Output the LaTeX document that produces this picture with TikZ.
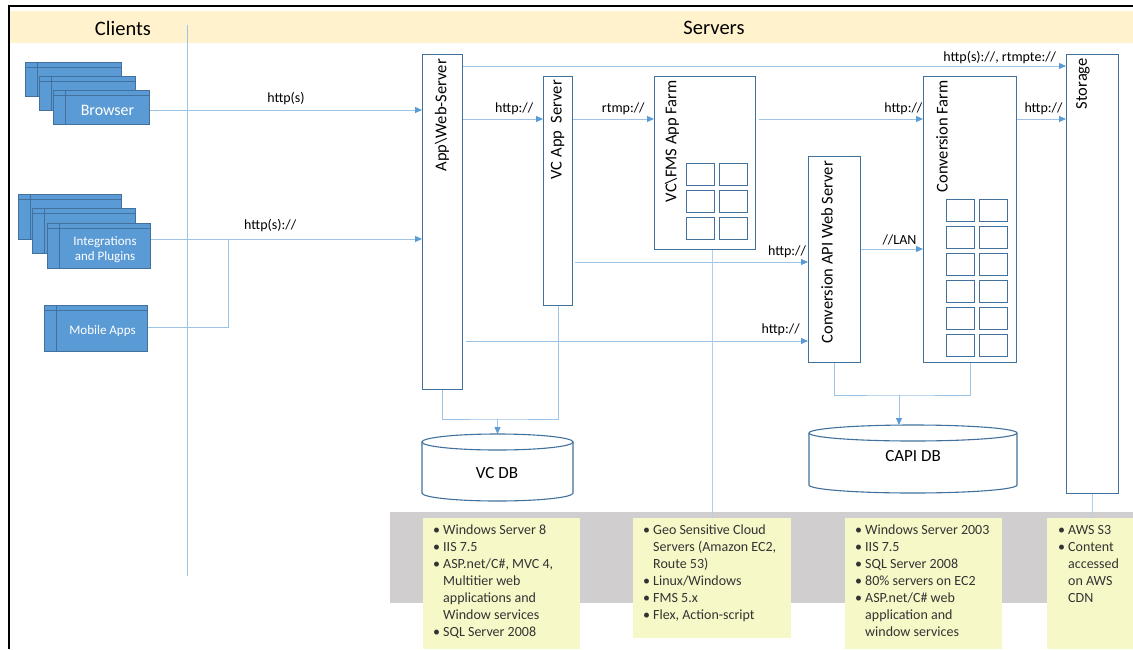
\documentclass[tikz,border=0pt]{standalone}
\usepackage{fontspec}
\setmainfont{Carlito}
\usetikzlibrary{arrows.meta,calc}
\definecolor{clientblue}{HTML}{5B9BD5}
\definecolor{clientedge}{HTML}{41719C}
\definecolor{srvedge}{HTML}{41719C}
\definecolor{linkblue}{HTML}{9DC3E6}
\definecolor{tipblue}{HTML}{5B9BD5}
\definecolor{headyellow}{HTML}{FFF2CC}
\definecolor{bandgray}{HTML}{D0CECE}
\definecolor{noteyellow}{HTML}{F6F8C8}
\newcommand{\nbul}{\makebox[10pt][l]{\textbullet}}
\newcommand{\nind}{\hspace*{10pt}}
\tikzset{
  client/.style={draw=clientedge, fill=clientblue, line width=1pt, anchor=north west, inner sep=0,
    path picture={
      \draw[clientedge, line width=1pt] ([yshift=-5pt]path picture bounding box.north west) -- ([yshift=-5pt]path picture bounding box.north east);
      \draw[clientedge, line width=1pt] ([xshift=12pt]path picture bounding box.north west) -- ([xshift=12pt]path picture bounding box.south west);}},
  ctext/.style={text=white, align=center, inner sep=0},
  srv/.style={draw=srvedge, fill=white, line width=1.1pt, anchor=north west, inner sep=0},
  vlabel/.style={rotate=90, anchor=east, inner sep=0, font=\fontsize{16.5}{19}\selectfont},
  cell/.style={draw=srvedge, fill=white, line width=1.1pt, minimum width=28, minimum height=22, anchor=north west, inner sep=0},
  link/.style={draw=linkblue, line width=1pt},
  arr/.style={link, -{Triangle[length=7pt, width=6pt, color=tipblue]}},
  faint/.style={draw=linkblue!80, line width=0.6pt},
  lbl/.style={font=\fontsize{14}{16}\selectfont, inner sep=1pt},
  db/.style={draw=srvedge, line width=1.1pt, fill=white},
  dbtext/.style={font=\fontsize{17}{19}\selectfont},
  head/.style={font=\fontsize{20.5}{23}\selectfont},
  note/.style={fill=noteyellow, anchor=north west, inner sep=0},
  ntext/.style={align=left, anchor=north west, inner sep=0, text=black!80, font=\fontsize{14}{17}\selectfont},
}
\begin{document}
\begin{tikzpicture}[x=1pt,y=-1pt]
  \useasboundingbox (0,0) rectangle (1133,649);

  % frame and header
  \fill[headyellow] (10,11) rectangle (1133,43);
  \draw[line width=2pt] (9,649) -- (9,6) -- (1133,6);
  \node[head] (clients) at (123,28) {Clients};
  \node[head] (servers) at (714,28) {Servers};
  \draw[link] (187,25) -- (187,576);

  % bottom band and notes
  \fill[bandgray] (390,512) rectangle (1133,603);
  \node[note, minimum width=157, minimum height=131] (note1) at (423,518) {};
  \node[note, minimum width=158, minimum height=120] (note2) at (633,518) {};
  \node[note, minimum width=157, minimum height=131] (note3) at (845,518) {};
  \node[note, minimum width=86, minimum height=131] (note4) at (1047,518) {};
  \node[ntext] (note1t) at (433,525) {\nbul Windows Server 8\\ \nbul IIS 7.5\\ \nbul ASP.net/C\#, MVC 4,\\ \nind Multitier web\\ \nind applications and\\ \nind Window services\\ \nbul SQL Server 2008};
  \node[ntext] (note2t) at (643,525) {\nbul Geo Sensitive Cloud\\ \nind Servers (Amazon EC2,\\ \nind Route 53)\\ \nbul Linux/Windows\\ \nbul FMS 5.x\\ \nbul Flex, Action-script};
  \node[ntext] (note3t) at (855,525) {\nbul Windows Server 2003\\ \nbul IIS 7.5\\ \nbul SQL Server 2008\\ \nbul 80\% servers on EC2\\ \nbul ASP.net/C\# web\\ \nind application and\\ \nind window services};
  \node[ntext] (note4t) at (1058,525) {\nbul AWS S3\\ \nbul Content\\ \nind accessed\\ \nind on AWS\\ \nind CDN};

  % clients
  \node[client, minimum width=96, minimum height=34] (brow1) at (25,62) {};
  \node[client, minimum width=96, minimum height=34] (brow2) at (39,76) {};
  \node[client, minimum width=96, minimum height=34,
    label={[ctext, font=\fontsize{16}{18}\selectfont, xshift=6pt, yshift=-3pt]center:Browser}] (brow3) at (53,90) {};
  \node[client, minimum width=103, minimum height=45] (int1) at (18,194) {};
  \node[client, minimum width=103, minimum height=45] (int2) at (32,208) {};
  \node[client, minimum width=103, minimum height=45,
    label={[ctext, font=\fontsize{13}{15}\selectfont, xshift=6pt, yshift=-3.5pt]center:Integrations\\and Plugins}] (int3) at (47,223) {};
  \node[client, minimum width=103, minimum height=46,
    label={[ctext, font=\fontsize{13}{15}\selectfont, xshift=6.5pt, yshift=-3pt]center:Mobile Apps}] (mob) at (44,305) {};

  % servers
  \node[srv, minimum width=40, minimum height=335] (web) at (422,54) {};
  \node[srv, minimum width=29, minimum height=229] (vcapp) at (543,76) {};
  \node[srv, minimum width=101, minimum height=173] (fms) at (654,76) {};
  \node[srv, minimum width=52, minimum height=206] (capi) at (808,156) {};
  \node[srv, minimum width=93, minimum height=286] (cfarm) at (923,76) {};
  \node[srv, minimum width=52, minimum height=439] (store) at (1066,54) {};
  \node[vlabel] (webt) at (442,59) {App\textbackslash Web-Server};
  \node[vlabel] (vcappt) at (557.5,80) {VC App\ \ Server};
  \node[vlabel] (fmst) at (672,80) {VC\textbackslash FMS App Farm};
  \node[vlabel] (capit) at (827,161) {Conversion API Web Server};
  \node[vlabel] (cfarmt) at (942,80) {Conversion Farm};
  \node[vlabel] (storet) at (1083,58) {Storage};
  \foreach \r in {0,1,2}
    \foreach \c in {0,1}
      \node[cell] (fc\r\c) at ({686+33*\c},{163+27*\r}) {};
  \foreach \r in {0,...,5}
    \foreach \c in {0,1}
      \node[cell] (cc\r\c) at ({946+33*\c},{199+27*\r}) {};

  % databases
  \coordinate (vcdb) at (497.5,442);
  \draw[db] (422,442) -- (422,493) arc[start angle=180, end angle=0, x radius=75.5, y radius=8] -- (573,442);
  \draw[db] (vcdb) ellipse[x radius=75.5, y radius=8];
  \node[dbtext] (vcdbt) at (497,473) {VC DB};
  \coordinate (capidb) at (913,433);
  \draw[db] (809,433) -- (809,485) arc[start angle=180, end angle=0, x radius=104, y radius=8] -- (1017,433);
  \draw[db] (capidb) ellipse[x radius=104, y radius=8];
  \node[dbtext] (capidbt) at (913,456) {CAPI DB};

  % rows of the connectors
  \coordinate (rowb) at (0,110);
  \coordinate (rowi) at (0,239);
  \coordinate (rowm) at (0,327);
  \coordinate (rowtop) at (0,66);
  \coordinate (row1) at (0,119);
  \coordinate (rowl) at (0,249);
  \coordinate (rowh) at (0,262);
  \coordinate (rowlow) at (0,341);
  \coordinate (mj) at (228,239);
  \coordinate (vcj) at (497.5,419);
  \coordinate (capij) at (899,395);

  \draw[arr] (brow3.east |- rowb) -- node[lbl, above=4pt, pos=0.5]{http(s)} (web.west |- rowb);
  \draw[arr] (int3.east |- rowi) -- node[lbl, above=6pt, pos=0.44]{http(s)://} (web.west |- rowi);
  \draw[link] (mob.east |- rowm) -| (mj);
  \draw[arr] (web.east |- rowtop) -- node[lbl, above=1pt, pos=0.89]{http(s)://, rtmpte://} (store.west |- rowtop);
  \draw[arr] (web.east |- row1) -- node[lbl, above=3pt, pos=0.64]{http://} (vcapp.west |- row1);
  \draw[arr] (vcapp.east |- row1) -- node[lbl, above=3pt, pos=0.62]{rtmp://} (fms.west |- row1);
  \draw[arr] ([xshift=3pt]fms.east |- row1) -- node[lbl, above=3pt, pos=0.88]{http://} (cfarm.west |- row1);
  \draw[arr] (cfarm.east |- row1) -- node[lbl, above=3pt, pos=0.54]{http://} (store.west |- row1);
  \draw[arr] ([xshift=2pt]vcapp.east |- rowh) -- node[lbl, above=3pt, pos=0.91]{http://} (capi.west |- rowh);
  \draw[arr] ([xshift=3pt]web.east |- rowlow) -- node[lbl, above=4pt, pos=0.92]{http://} (capi.west |- rowlow);
  \draw[arr] (capi.east |- rowl) -- node[lbl, above=2pt, pos=0.62]{//LAN} (cfarm.west |- rowl);

  \draw[link] (web.south) |- (vcj) -| (vcapp.south);
  \draw[arr] (vcj) -- ([yshift=8pt]vcdb);
  \draw[link] (capi.south) |- (capij) -| (cfarm.south);
  \draw[arr] (capij) -- ([yshift=8pt]capij |- capidb);

  \draw[faint] ([xshift=7.5pt]fms.south) -- ([xshift=7.5pt]fms.south |- note2.north);
  \draw[faint] (store.south) -- (store.south |- note4.north);
\end{tikzpicture}
\end{document}
